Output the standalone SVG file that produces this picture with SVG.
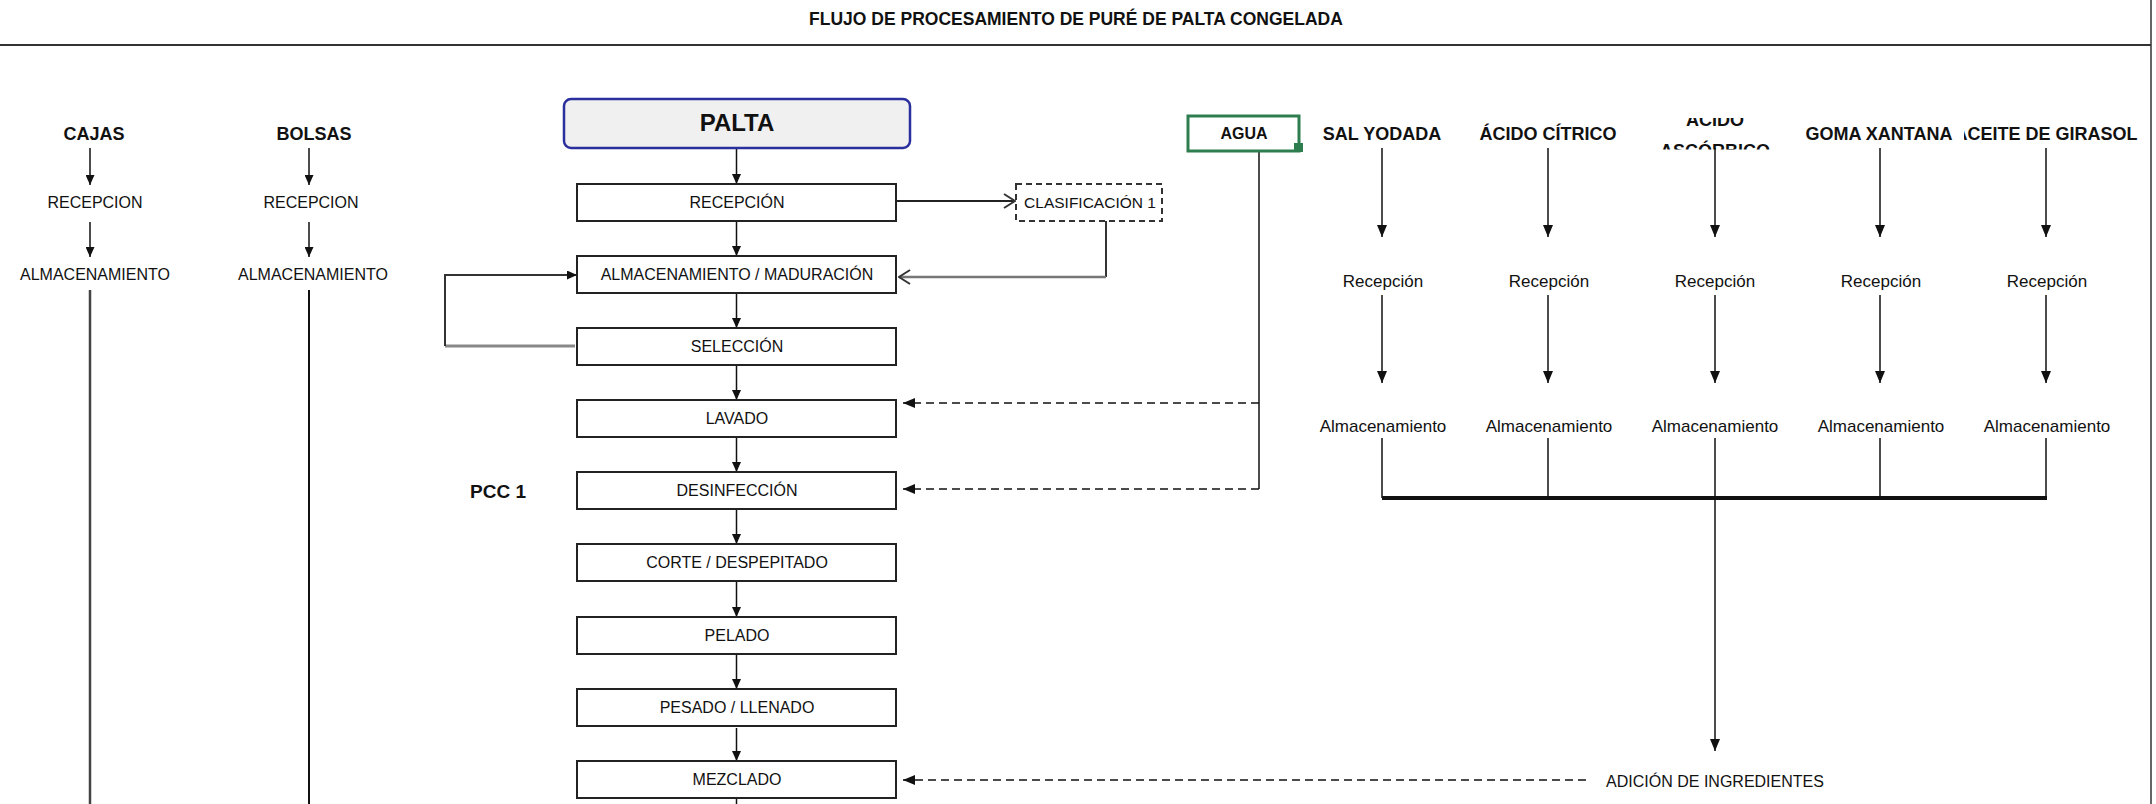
<svg xmlns="http://www.w3.org/2000/svg" width="2156" height="804" viewBox="0 0 2156 804">
<style>
text{font-family:"Liberation Sans",Arial,sans-serif;fill:#111;text-anchor:middle}
.b{font-weight:bold}
.t16{font-size:16px}
.t17{font-size:17px}
.h{font-size:18px;font-weight:bold}
.box{fill:#fff;stroke:#222;stroke-width:2}
.ln{fill:none;stroke:#111;stroke-width:1.5}
.dash{fill:none;stroke:#111;stroke-width:1.5;stroke-dasharray:8 5}
.gray{fill:none;stroke:#888;stroke-width:3}
</style>
<defs>
<marker id="ar" markerUnits="userSpaceOnUse" markerWidth="10" markerHeight="9" refX="10" refY="4.5" orient="auto"><path d="M0,0 L10,4.5 L0,9 z" fill="#111"/></marker>
<marker id="ar2" markerUnits="userSpaceOnUse" markerWidth="12" markerHeight="10" refX="12" refY="5" orient="auto"><path d="M0,0 L12,5 L0,10 z" fill="#111"/></marker>
<marker id="op" markerUnits="userSpaceOnUse" markerWidth="14" markerHeight="16" refX="13" refY="8" orient="auto"><path d="M2,1 L13,8 L2,15" fill="none" stroke="#333" stroke-width="2"/></marker>
<clipPath id="cAsc"><rect x="1630" y="118" width="180" height="31.5"/></clipPath>
<clipPath id="cAce"><rect x="1964" y="110" width="190" height="40"/></clipPath>
</defs>
<rect x="0" y="0" width="2156" height="804" fill="#fff"/>
<g id="frame">
<text x="1076" y="25" class="b" style="font-size:17.5px">FLUJO DE PROCESAMIENTO DE PURÉ DE PALTA CONGELADA</text>
<line x1="0" y1="45" x2="2151" y2="45" stroke="#333" stroke-width="2"/>
<line x1="2151" y1="0" x2="2151" y2="804" stroke="#333" stroke-width="1.5"/>
</g>
<g id="connectors">
<!-- left columns -->
<line class="ln" x1="90" y1="148" x2="90" y2="185" marker-end="url(#ar)"/>
<line class="ln" x1="90" y1="222" x2="90" y2="257" marker-end="url(#ar)"/>
<line x1="90" y1="290" x2="90" y2="804" stroke="#444" stroke-width="2.5"/>
<line class="ln" x1="309" y1="148" x2="309" y2="185" marker-end="url(#ar)"/>
<line class="ln" x1="309" y1="222" x2="309" y2="257" marker-end="url(#ar)"/>
<line x1="309" y1="290" x2="309" y2="804" stroke="#111" stroke-width="2"/>
<!-- main chain -->
<line class="ln" x1="736.5" y1="148" x2="736.5" y2="184" marker-end="url(#ar)"/>
<line class="ln" x1="736.5" y1="221" x2="736.5" y2="256" marker-end="url(#ar)"/>
<line class="ln" x1="736.5" y1="293" x2="736.5" y2="328" marker-end="url(#ar)"/>
<line class="ln" x1="736.5" y1="365" x2="736.5" y2="400" marker-end="url(#ar)"/>
<line class="ln" x1="736.5" y1="437" x2="736.5" y2="472" marker-end="url(#ar)"/>
<line class="ln" x1="736.5" y1="509" x2="736.5" y2="544" marker-end="url(#ar)"/>
<line class="ln" x1="736.5" y1="581" x2="736.5" y2="617" marker-end="url(#ar)"/>
<line class="ln" x1="736.5" y1="654" x2="736.5" y2="689" marker-end="url(#ar)"/>
<line class="ln" x1="736.5" y1="728" x2="736.5" y2="761" marker-end="url(#ar)"/>
<line class="ln" x1="736.5" y1="798" x2="736.5" y2="804"/>
<!-- clasificacion -->
<line x1="896" y1="201" x2="1015" y2="201" stroke="#222" stroke-width="1.8" marker-end="url(#op)"/>
<path d="M1106,221 V277" fill="none" stroke="#333" stroke-width="2"/>
<path d="M1106,277 H899" fill="none" stroke="#777" stroke-width="2.5" marker-end="url(#op)"/>
<!-- loop -->
<line class="gray" x1="575" y1="346" x2="445" y2="346"/>
<path d="M445,346 V275 H577" fill="none" stroke="#333" stroke-width="2" marker-end="url(#ar)"/>
<!-- agua -->
<path d="M1259,151 V489" class="ln"/>
<line class="dash" x1="1259" y1="403" x2="903" y2="403" marker-end="url(#ar2)"/>
<line class="dash" x1="1259" y1="489" x2="903" y2="489" marker-end="url(#ar2)"/>
<!-- ingredients -->
<line class="ln" x1="1382" y1="148" x2="1382" y2="237" marker-end="url(#ar2)"/>
<line class="ln" x1="1548" y1="148" x2="1548" y2="237" marker-end="url(#ar2)"/>
<line class="ln" x1="1715" y1="148" x2="1715" y2="237" marker-end="url(#ar2)"/>
<line class="ln" x1="1880" y1="148" x2="1880" y2="237" marker-end="url(#ar2)"/>
<line class="ln" x1="2046" y1="148" x2="2046" y2="237" marker-end="url(#ar2)"/>
<line class="ln" x1="1382" y1="295" x2="1382" y2="383" marker-end="url(#ar2)"/>
<line class="ln" x1="1548" y1="295" x2="1548" y2="383" marker-end="url(#ar2)"/>
<line class="ln" x1="1715" y1="295" x2="1715" y2="383" marker-end="url(#ar2)"/>
<line class="ln" x1="1880" y1="295" x2="1880" y2="383" marker-end="url(#ar2)"/>
<line class="ln" x1="2046" y1="295" x2="2046" y2="383" marker-end="url(#ar2)"/>
<line class="ln" x1="1382" y1="438" x2="1382" y2="498"/>
<line class="ln" x1="1548" y1="438" x2="1548" y2="498"/>
<line class="ln" x1="1880" y1="438" x2="1880" y2="498"/>
<line class="ln" x1="2046" y1="438" x2="2046" y2="498"/>
<line x1="1382" y1="498" x2="2047" y2="498" stroke="#111" stroke-width="4"/>
<line class="ln" x1="1715" y1="438" x2="1715" y2="751" marker-end="url(#ar2)"/>
<line class="dash" x1="1586" y1="780" x2="903" y2="780" marker-end="url(#ar2)"/>
<polygon points="656,724 665,724 662,714" fill="#111"/>
</g>
<g id="n-cajas">
<text x="94" y="140" class="h">CAJAS</text>
<text x="95" y="208" class="t16">RECEPCION</text>
<text x="95" y="280" class="t16">ALMACENAMIENTO</text>
</g>
<g id="n-bolsas">
<text x="314" y="140" class="h">BOLSAS</text>
<text x="311" y="208" class="t16">RECEPCION</text>
<text x="313" y="280" class="t16">ALMACENAMIENTO</text>
</g>
<g id="n-palta">
<rect x="564" y="99" width="346" height="49" rx="7" fill="#f0f0f0" stroke="#2b2f9e" stroke-width="2.5"/>
<text x="737" y="131" class="b" style="font-size:24px">PALTA</text>
</g>
<g id="n-recepcion"><rect class="box" x="577" y="184" width="319" height="37"/><text x="737" y="208" class="t16">RECEPCIÓN</text></g>
<g id="n-almacenamiento"><rect class="box" x="577" y="256" width="319" height="37"/><text x="737" y="280" class="t16">ALMACENAMIENTO / MADURACIÓN</text></g>
<g id="n-seleccion"><rect class="box" x="577" y="328" width="319" height="37"/><text x="737" y="352" class="t16">SELECCIÓN</text></g>
<g id="n-lavado"><rect class="box" x="577" y="400" width="319" height="37"/><text x="737" y="424" class="t16">LAVADO</text></g>
<g id="n-desinfeccion"><rect class="box" x="577" y="472" width="319" height="37"/><text x="737" y="496" class="t16">DESINFECCIÓN</text></g>
<g id="n-corte"><rect class="box" x="577" y="544" width="319" height="37"/><text x="737" y="568" class="t16">CORTE / DESPEPITADO</text></g>
<g id="n-pelado"><rect class="box" x="577" y="617" width="319" height="37"/><text x="737" y="641" class="t16">PELADO</text></g>
<g id="n-pesado"><rect class="box" x="577" y="689" width="319" height="37"/><text x="737" y="713" class="t16">PESADO / LLENADO</text></g>
<g id="n-mezclado"><rect class="box" x="577" y="761" width="319" height="37"/><text x="737" y="785" class="t16">MEZCLADO</text></g>
<g id="n-pcc"><text x="498" y="498" class="b" style="font-size:19px">PCC 1</text></g>
<g id="n-clasificacion">
<rect x="1016" y="184" width="146" height="37" fill="#fff" stroke="#333" stroke-width="2" stroke-dasharray="6 4"/>
<text x="1090" y="208" style="font-size:15.5px">CLASIFICACIÓN 1</text>
</g>
<g id="n-agua">
<rect x="1188" y="116" width="111" height="35" fill="#fff" stroke="#2e7d4f" stroke-width="3"/>
<rect x="1294" y="143" width="9" height="9" fill="#2e7d4f"/>
<text x="1244" y="139" class="b" style="font-size:16px">AGUA</text>
</g>
<g id="n-sal"><text x="1382" y="140" class="h">SAL YODADA</text><text x="1383" y="287" class="t17">Recepción</text><text x="1383" y="432" class="t17">Almacenamiento</text></g>
<g id="n-citrico"><text x="1548" y="140" class="h">ÁCIDO CÍTRICO</text><text x="1549" y="287" class="t17">Recepción</text><text x="1549" y="432" class="t17">Almacenamiento</text></g>
<g id="n-ascorbico"><g clip-path="url(#cAsc)"><text x="1715" y="125.5" class="h">ÁCIDO</text><text x="1715" y="157" class="h">ASCÓRBICO</text></g><text x="1715" y="287" class="t17">Recepción</text><text x="1715" y="432" class="t17">Almacenamiento</text></g>
<g id="n-goma"><text x="1879" y="140" class="h">GOMA XANTANA</text><text x="1881" y="287" class="t17">Recepción</text><text x="1881" y="432" class="t17">Almacenamiento</text></g>
<g id="n-aceite"><g clip-path="url(#cAce)"><text x="2046" y="140" class="h">ACEITE DE GIRASOL</text></g><text x="2047" y="287" class="t17">Recepción</text><text x="2047" y="432" class="t17">Almacenamiento</text></g>
<g id="n-adicion"><text x="1715" y="787" class="t16">ADICIÓN DE INGREDIENTES</text></g>
</svg>
